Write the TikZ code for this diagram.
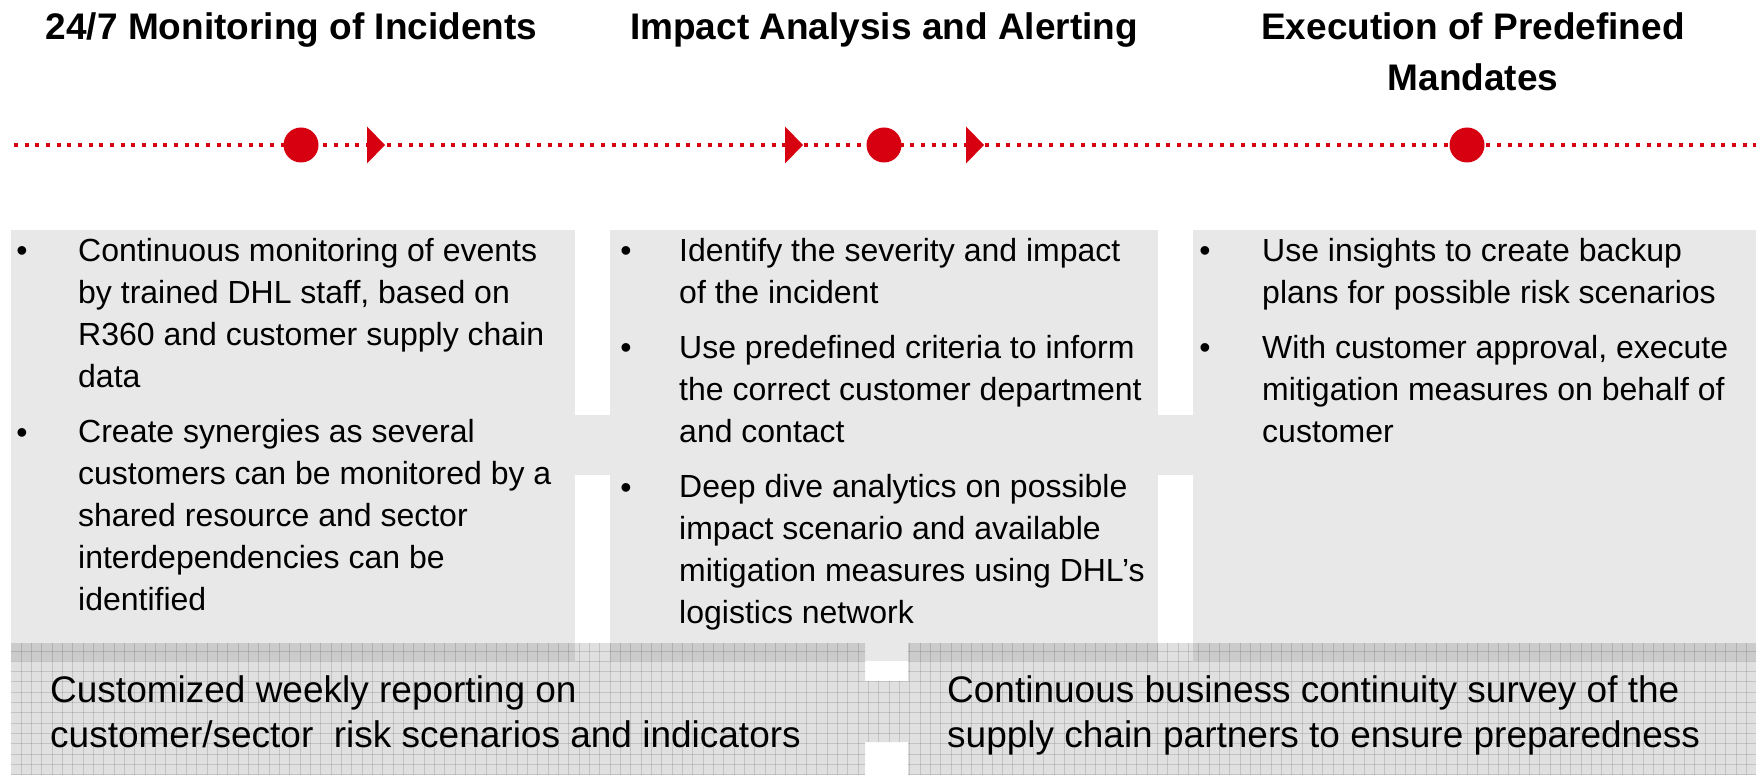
\documentclass[tikz,border=0pt]{standalone}
\usepackage{fontspec}
\setmainfont{Liberation Sans}
\definecolor{dhlred}{RGB}{215,0,17}
\definecolor{boxgray}{RGB}{232,232,232}
\begin{document}
\begin{tikzpicture}[x=1pt,y=-1pt,
  titletext/.style={font=\fontsize{37}{51}\selectfont\bfseries, align=center, inner sep=0, anchor=north},
  bodytext/.style={font=\fontsize{32}{42}\selectfont, align=left, inner sep=0, anchor=north west},
  bul/.style={font=\fontsize{32}{42}\selectfont, inner sep=0, anchor=base},
  bottomtext/.style={font=\fontsize{37}{45}\selectfont, align=left, inner sep=0, anchor=north west},
  dot/.style={circle, fill=dhlred, minimum size=35pt, inner sep=0},
  panel/.style={fill=boxgray},
  gridline/.style={black, opacity=0.13, line width=1pt},
  timeline/.style={dhlred, line width=4pt, dash pattern=on 4pt off 6.67pt}
]
\useasboundingbox (0,0) rectangle (1756,775);

% grey panels
\fill[panel] (11,230) rectangle (575,661);
\fill[panel] (610,230) rectangle (1158,661);
\fill[panel] (1193,230) rectangle (1756,661);
\fill[panel] (575,415) rectangle (610,475);
\fill[panel] (1158,415) rectangle (1193,475);

% grid bands
\begin{scope}
  \path[clip] (11,643) rectangle (865,775) (865,681) rectangle (908,742) (908,643) rectangle (1756,775);
  \fill[black, opacity=0.12] (0,600) rectangle (1756,775);
  \foreach \k in {0,...,170} {
    \draw[gridline] ({21.3+10.33*\k},600) -- ({21.3+10.33*\k},775);
  }
  \foreach \k in {0,...,13} {
    \draw[gridline] (0,{651+10.33*\k}) -- (1756,{651+10.33*\k});
  }
\end{scope}

% timeline
\coordinate (tlstart) at (14,145);
\coordinate (tlend) at (1756,145);
\draw[timeline] (tlstart) -- (tlend);
\node[dot] (c1) at (301,145) {};
\node[dot] (c2) at (884,145) {};
\node[dot] (c3) at (1467,145) {};
\fill[dhlred] (367,126.5) -- (385,145) -- (367,163.5) -- cycle;
\fill[dhlred] (785,126.5) -- (803,145) -- (785,163.5) -- cycle;
\fill[dhlred] (966,126.5) -- (984,145) -- (966,163.5) -- cycle;

% titles
\node[titletext] (t1) at (291.5,12) {24/7 Monitoring of Incidents};
\node[titletext] (t2) at (884,12) {Impact Analysis and Alerting};
\node[titletext] (t3) at (1473,12) {Execution of Predefined\\Mandates};

% column 1
\node[bul] (b11) at (22,262) {•};
\node[bodytext] (p11) at (78,238.5) {Continuous monitoring of events\\by trained DHL staff, based on\\R360 and customer supply chain\\data};
\node[bul] (b12) at (22,443) {•};
\node[bodytext] (p12) at (78,419.5) {Create synergies as several\\customers can be monitored by a\\shared resource and sector\\interdependencies can be\\identified};

% column 2
\node[bul] (b21) at (626,262) {•};
\node[bodytext] (p21) at (679,238.5) {Identify the severity and impact\\of the incident};
\node[bul] (b22) at (626,359) {•};
\node[bodytext] (p22) at (679,335.5) {Use predefined criteria to inform\\the correct customer department\\and contact};
\node[bul] (b23) at (626,498) {•};
\node[bodytext] (p23) at (679,474.5) {Deep dive analytics on possible\\impact scenario and available\\mitigation measures using DHL’s\\logistics network};

% column 3
\node[bul] (b31) at (1205,262) {•};
\node[bodytext] (p31) at (1262,238.5) {Use insights to create backup\\plans for possible risk scenarios};
\node[bul] (b32) at (1205,359) {•};
\node[bodytext] (p32) at (1262,335.5) {With customer approval, execute\\mitigation measures on behalf of\\customer};

% bottom texts
\node[bottomtext] (r1) at (50,675) {Customized weekly reporting on\\customer/sector\ \ risk scenarios and indicators};
\node[bottomtext] (r2) at (947,675) {Continuous business continuity survey of the\\supply chain partners to ensure preparedness};
\end{tikzpicture}
\end{document}
